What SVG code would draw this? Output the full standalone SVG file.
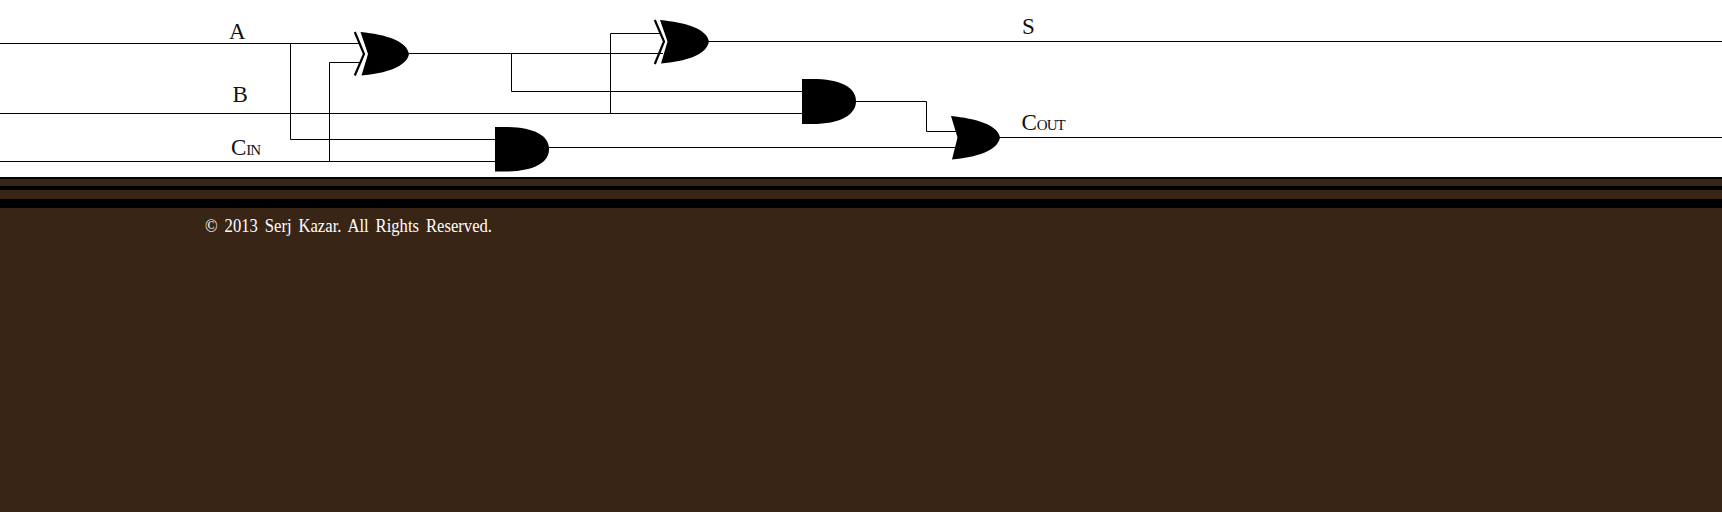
<svg xmlns="http://www.w3.org/2000/svg" width="1722" height="512" viewBox="0 0 1722 512">
<style>
.w{fill:none;stroke:#000;stroke-width:1}
.g{fill:#000}
.xb{fill:none;stroke:#000;stroke-width:2.200}
.t{font-family:"Liberation Serif",serif;font-size:23px;fill:#111}
.s{font-size:15px;letter-spacing:-1px}
.f{font-family:"Liberation Serif",serif;font-size:18px;fill:#fff;word-spacing:3px}
</style>
<rect width="1722" height="512" fill="#fff"/>
<g id="footer">
<rect y="177" width="1722" height="335" fill="#392516"/>
<rect y="177" width="1722" height="2" fill="#000"/>
<rect y="186" width="1722" height="4" fill="#000"/>
<rect y="199" width="1722" height="9" fill="#000"/>
<text class="f" x="205" y="232" textLength="287" lengthAdjust="spacingAndGlyphs">© 2013 Serj Kazar. All Rights Reserved.</text>
</g>
<g id="connectors">
<path class="w" d="M0 43.500H360M290.500 43.500V139.500H495"/>
<path class="w" d="M0 113.500H802M610.500 113.500V33.500H660"/>
<path class="w" d="M0 161.500H495M329.500 161.500V62.500H361"/>
<path class="w" d="M409 53.500H663M511.500 53.500V91.500H802"/>
<path class="w" d="M549 147.500H958"/>
<path class="w" d="M856 101.500H926.500V131.500H958"/>
<path class="w" d="M708 41.500H1722"/>
<path class="w" d="M999 137.500H1722"/>
</g>
<g id="xor1">
<path class="g" d="M360.500 32C386 34.500 407 41 409 54C407 66.500 386 73.500 361.500 75.500L368 54Z"/>
<path class="xb" d="M354.800 32L364 54L354.800 75.500"/>
</g>
<g id="xor2">
<path class="g" d="M660 20C686 22.500 707 29 709 41.500C707 54.500 686 61.500 661 63.500L667.500 41.500Z"/>
<path class="xb" d="M654.800 20L664 41.500L654.800 64"/>
</g>
<g id="and1">
<path class="g" d="M495 127H505C533 127 549 135 549 149.250C549 163 533 171.500 505 171.500H495Z"/>
</g>
<g id="and2">
<path class="g" d="M802 79H812C840 79 856 87 856 101.250C856 115 840 124 812 124H802Z"/>
</g>
<g id="or1">
<path class="g" d="M951 116C976 118.500 998 125 1000 137.500C998 150.500 976 157.500 952 159.500L957.500 137.500Z"/>
</g>
<g id="labels">
<text class="t" x="229" y="38.500">A</text>
<text class="t" x="232.500" y="102">B</text>
<text class="t" x="231" y="154.500">C<tspan class="s">IN</tspan></text>
<text class="t" x="1022" y="33.500">S</text>
<text class="t" x="1021.500" y="129.500">C<tspan class="s">OUT</tspan></text>
</g>
</svg>
